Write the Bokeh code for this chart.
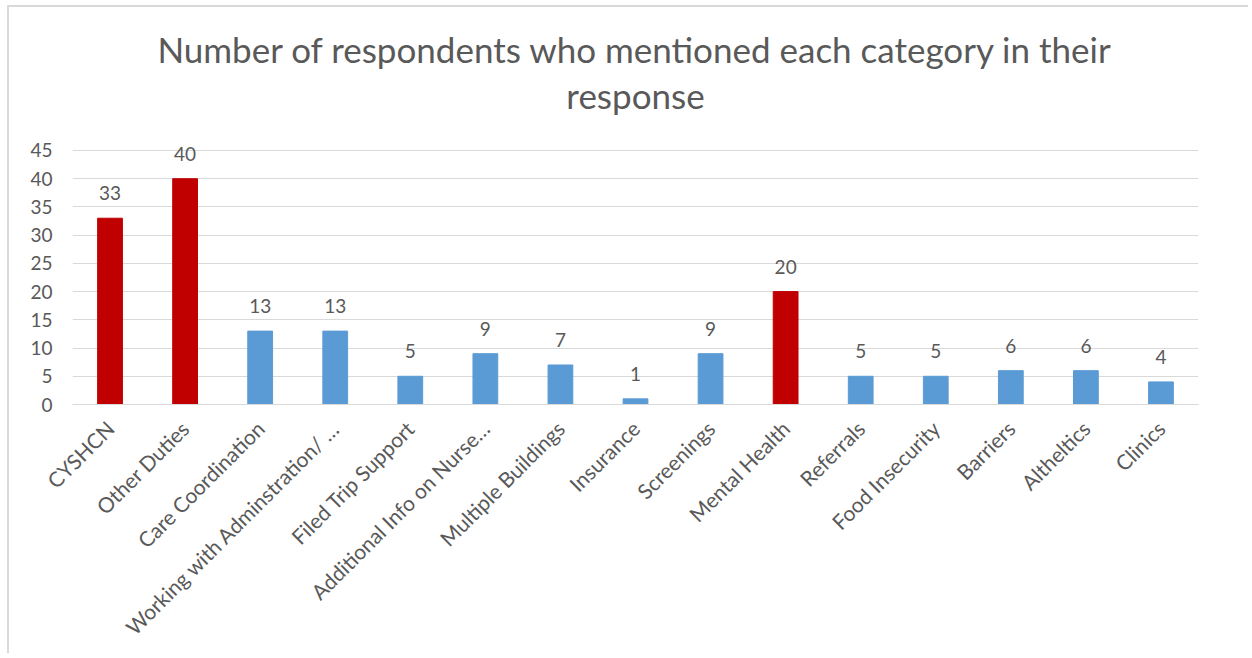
import math
from bokeh.plotting import figure
from bokeh.models import ColumnDataSource, FixedTicker, Range1d, Label
from bokeh.core.properties import value
from bokeh.embed import file_html
from bokeh.resources import INLINE

categories = ["CYSHCN", "Other Duties", "Care Coordination", "Working with Adminstration/ …",
              "Filed Trip Support", "Additional Info on Nurse…", "Multiple Buildings", "Insurance",
              "Screenings", "Mental Health", "Referrals", "Food Insecurity", "Barriers",
              "Altheltics", "Clinics"]
counts = [33, 40, 13, 13, 5, 9, 7, 1, 9, 20, 5, 5, 6, 6, 4]
highlight = ["CYSHCN", "Other Duties", "Mental Health"]
y_ticks = [0, 5, 10, 15, 20, 25, 30, 35, 40, 45]
title_lines = ["Number of respondents who mentioned each category in their", "response"]

RED = "#C00000"
BLUE = "#5B9BD5"
GRAY = "#595959"
FONT = "Lato"

xs = [i + 0.5 for i in range(len(categories))]
colors = [RED if c in highlight else BLUE for c in categories]
src = ColumnDataSource(dict(x=xs, top=counts, color=colors, lbl=[str(v) for v in counts]))

# frame spans from the canvas top down to the zero line; y scale keeps 45 at the top gridline
p = figure(width=1241, height=648, output_backend="svg", toolbar_location=None,
           x_range=Range1d(0, len(categories)), y_range=Range1d(0, 70.33),
           min_border_left=63, min_border_right=52, min_border_top=0, min_border_bottom=251)
p.styles = {"border-left": "2px solid #d9d9d9", "border-top": "2px solid #d9d9d9",
            "margin-left": "7px", "margin-top": "5px"}
p.outline_line_color = None
p.background_fill_color = "white"
p.border_fill_color = "white"
p.title = None

for t, sy in zip(title_lines, [356, 310]):
    p.add_layout(Label(x=len(categories) / 2, y=sy, x_units="data", y_units="screen", text=t,
                       text_align="center", text_baseline="middle", text_font=FONT,
                       text_font_size="35px", text_color=GRAY))

p.vbar(x="x", top="top", width=0.33, color="color", source=src)
p.text(x="x", y="top", text="lbl", source=src, text_align="center", text_baseline="middle",
       y_offset=-25, text_font=value(FONT), text_font_size="19px", text_color=GRAY)

p.xgrid.grid_line_color = None
p.ygrid.grid_line_color = "#d9d9d9"
p.ygrid.ticker = FixedTicker(ticks=y_ticks)

p.yaxis.ticker = FixedTicker(ticks=y_ticks)
p.yaxis.axis_line_color = None
p.yaxis.major_tick_line_color = None
p.yaxis.minor_tick_line_color = None
p.yaxis.major_label_standoff = 14
p.yaxis.major_label_text_font = FONT
p.yaxis.major_label_text_font_size = "19px"
p.yaxis.major_label_text_color = GRAY

p.xaxis.ticker = FixedTicker(ticks=xs)
p.xaxis.major_label_overrides = {x: c for x, c in zip(xs, categories)}
p.xaxis.axis_line_color = "#d9d9d9"
p.xaxis.major_tick_line_color = None
p.xaxis.minor_tick_line_color = None
p.xaxis.major_label_orientation = math.pi / 4
p.xaxis.major_label_standoff = 14
p.xaxis.major_label_text_font = FONT
p.xaxis.major_label_text_font_size = "21px"
p.xaxis.major_label_text_color = GRAY

open("out.html", "w").write(file_html(p, INLINE))
